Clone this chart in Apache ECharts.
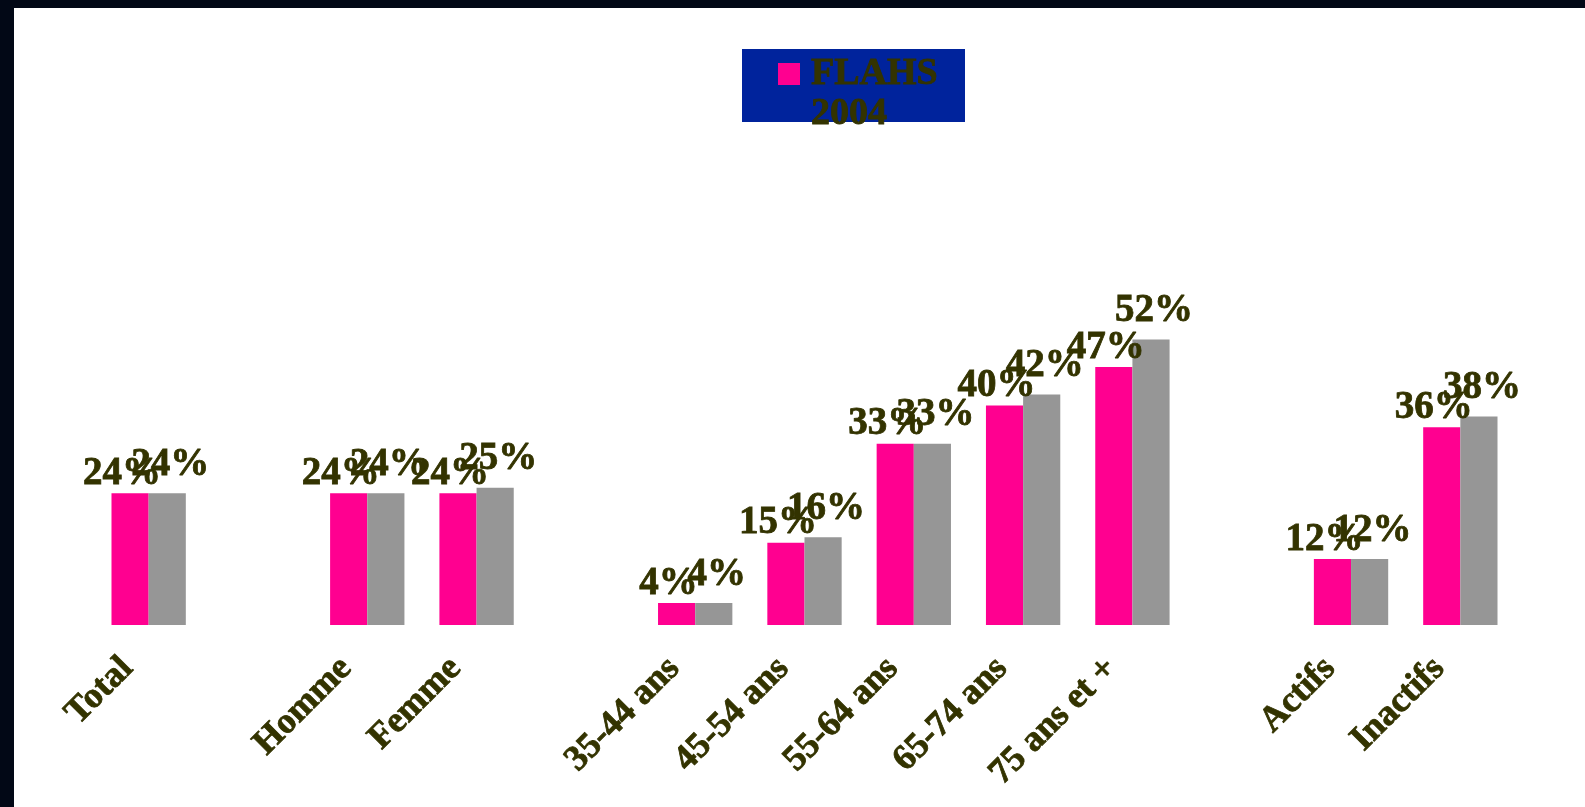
<!DOCTYPE html>
<html>
<head>
<meta charset="utf-8">
<script src="https://cdn.jsdelivr.net/npm/echarts@6/dist/echarts.min.js"></script>
<style>
  html, body { margin: 0; padding: 0; background: #020816; width: 1585px; height: 807px; overflow: hidden; }
  #chart { position: absolute; left: 14px; top: 8px; width: 1571px; height: 799px; background: #ffffff; }
</style>
</head>
<body>
<div id="chart"></div>
<script>
// Data
const categories = ['Total', '', 'Homme', 'Femme', '', '35-44 ans', '45-54 ans', '55-64 ans', '65-74 ans', '75 ans et +', '', 'Actifs', 'Inactifs'];
const seriesNames = ['FLAHS 2004', 'Série 2'];
const flahs2004 = [24, null, 24, 24, null, 4, 15, 33, 40, 47, null, 12, 36];
const serie2 = [24, null, 24, 25, null, 4, 16, 33, 42, 52, null, 12, 38];

const TEXT = '#333300';
const FONT = "'Liberation Serif', 'DejaVu Serif', serif";

const chart = echarts.init(document.getElementById('chart'), null, { renderer: 'canvas' });
const labelBase = {
  show: true,
  position: 'top',
  formatter: '{c}%',
  color: TEXT,
  fontFamily: FONT,
  fontWeight: 'bold',
  fontSize: 39,
  textBorderColor: TEXT,
  textBorderWidth: 0.8
};
chart.setOption({
  animation: false,
  backgroundColor: '#ffffff',
  graphic: [{
    type: 'rect',
    left: 728, top: 41, z: 0,
    shape: { width: 223, height: 73 },
    style: { fill: '#00239C' }
  }],
  legend: {
    data: [seriesNames[0]],
    left: 764,
    top: 6,
    padding: 0,
    z: 10,
    icon: 'rect',
    itemWidth: 22,
    itemHeight: 22,
    formatter: function () { return ' \nFLAHS\n2004'; },
    textStyle: {
      color: TEXT,
      fontFamily: FONT,
      fontWeight: 'bold',
      fontSize: 38,
      lineHeight: 40,
      padding: [0, 0, 0, 6],
      textBorderColor: TEXT,
      textBorderWidth: 0.8
    }
  },
  grid: { left: 80, right: 70, top: 68, bottom: 182, containLabel: false },
  xAxis: {
    type: 'category',
    data: categories,
    axisLine: { show: false },
    axisTick: { show: false },
    axisLabel: {
      interval: 0,
      rotate: 45,
      margin: 17,
      padding: [0, 30, 0, 0],
      color: TEXT,
      fontFamily: FONT,
      fontWeight: 'bold',
      fontSize: 36,
      textBorderColor: TEXT,
      textBorderWidth: 0.8
    }
  },
  yAxis: {
    type: 'value', min: 0, max: 100, show: false,
    splitLine: { show: false }
  },
  series: [
    {
      name: seriesNames[0], type: 'bar', data: flahs2004,
      barGap: '0%', barCategoryGap: '32%',
      itemStyle: { color: '#FF0090' },
      label: Object.assign({}, labelBase, { distance: 0, offset: [-8, 0] })
    },
    {
      name: seriesNames[1], type: 'bar', data: serie2,
      barGap: '0%', barCategoryGap: '32%',
      itemStyle: { color: '#969696' },
      label: Object.assign({}, labelBase, { distance: 9, offset: [3, 0] })
    }
  ]
});
</script>
</body>
</html>
